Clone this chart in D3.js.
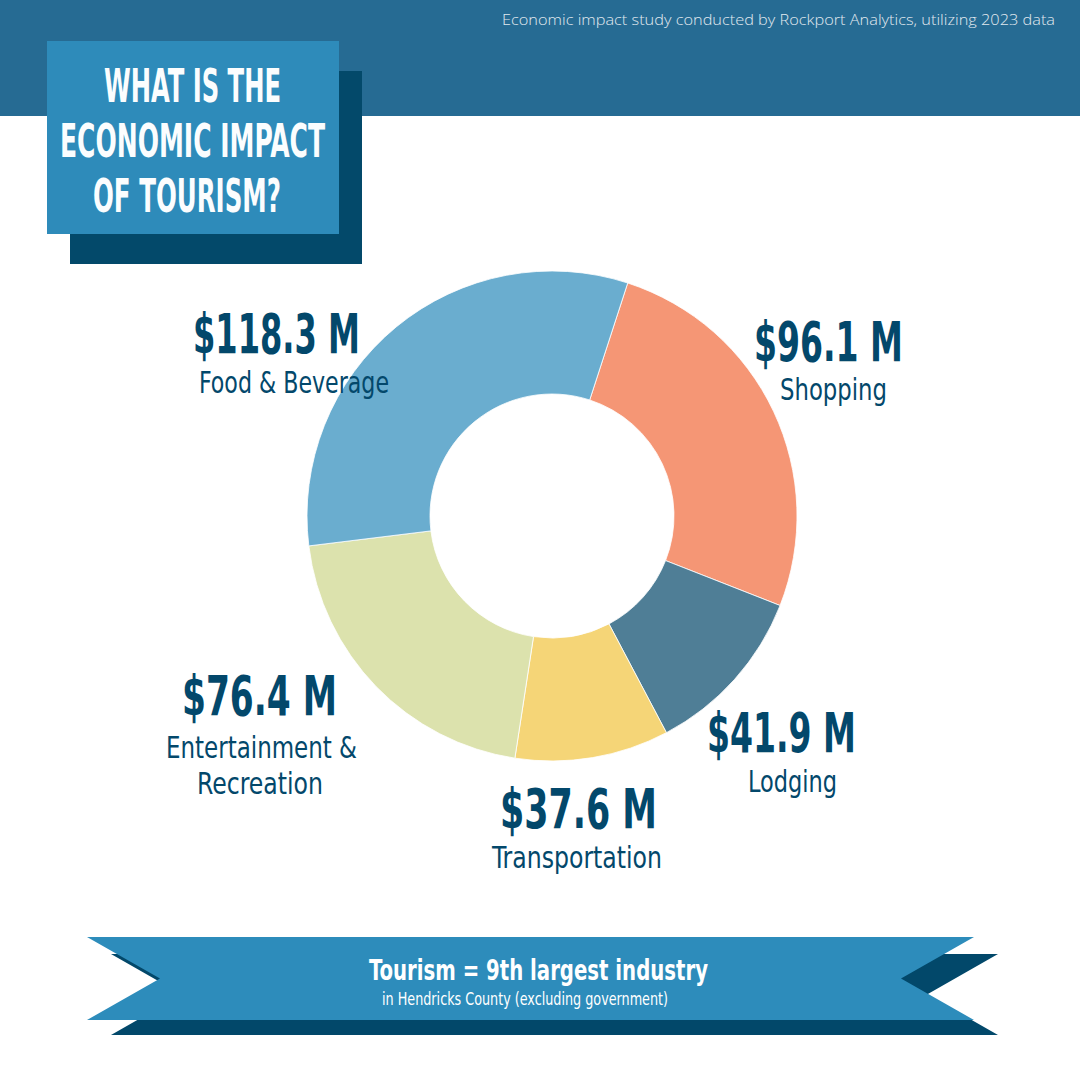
<!DOCTYPE html>
<html>
<head>
<meta charset="utf-8">
<script src="https://cdn.jsdelivr.net/npm/d3@7"></script>
<style>
  html, body { margin: 0; padding: 0; background: #ffffff; }
  svg { display: block; }
</style>
</head>
<body>
<svg id="chart" width="1080" height="1080"></svg>
<script>
// ---- data ----
const categories = ["Shopping", "Lodging", "Transportation", "Entertainment & Recreation", "Food & Beverage"];
const values = [96.1, 41.9, 37.6, 76.4, 118.3];
const categoryLines = [["Shopping"], ["Lodging"], ["Transportation"], ["Entertainment &", "Recreation"], ["Food & Beverage"]];
const sliceColors = ["#f59675", "#4f7e96", "#f5d577", "#dce2ad", "#6aadcf"];
const titleLines = ["WHAT IS THE", "ECONOMIC IMPACT", "OF TOURISM?"];
const sourceNote = "Economic impact study conducted by Rockport Analytics, utilizing 2023 data";
const bannerTitle = "Tourism = 9th largest industry";
const bannerSub = "in Hendricks County (excluding government)";

// ---- layout (positions only) ----
const labelLayout = [
  { v: [754, 903, 361], c: [[780, 887, 400]] },
  { v: [707, 856, 752], c: [[748, 837, 792]] },
  { v: [500, 657, 828], c: [[492, 662, 868]] },
  { v: [182, 337, 715], c: [[166, 357, 758], [197, 323, 794]] },
  { v: [193, 360, 353], c: [[199, 389, 393]] }
];
const titleLayout = [[104, 281, 102], [60, 325, 157], [93, 281, 212]];

const svg = d3.select("#chart");
const condensed = "'Liberation Sans Narrow', 'DejaVu Sans Condensed', 'Roboto', sans-serif";
const dark = "#03486b";

// header band
svg.append("rect").attr("x", 0).attr("y", 0).attr("width", 1080).attr("height", 116).attr("fill", "#266b93");
svg.append("text").attr("x", 502).attr("y", 25)
  .attr("textLength", 553).attr("lengthAdjust", "spacingAndGlyphs")
  .attr("font-family", "'Open Sans', 'DejaVu Sans', sans-serif").attr("font-weight", 300)
  .attr("font-size", 14).attr("fill", "#e1e9ef").text(sourceNote);

// title box
svg.append("rect").attr("x", 70).attr("y", 71).attr("width", 292).attr("height", 193).attr("fill", "#03496a");
svg.append("rect").attr("x", 47).attr("y", 41).attr("width", 292).attr("height", 193).attr("fill", "#2e8bba");
svg.selectAll("text.title").data(titleLines).join("text").attr("class", "title")
  .attr("x", (d, i) => titleLayout[i][0]).attr("y", (d, i) => titleLayout[i][2])
  .attr("textLength", (d, i) => titleLayout[i][1] - titleLayout[i][0]).attr("lengthAdjust", "spacingAndGlyphs")
  .attr("font-family", condensed).attr("font-weight", "bold").attr("font-size", 47)
  .attr("fill", "#fbfdfe").text(d => d);

// donut
const cx = 552, cy = 516;
const a0 = 18 * Math.PI / 180;
const pie = d3.pie().sort(null).value(d => d).startAngle(a0).endAngle(a0 + 2 * Math.PI);
const arc = d3.arc().innerRadius(122).outerRadius(245);
const g = svg.append("g").attr("transform", `translate(${cx},${cy})`);
g.selectAll("path").data(pie(values)).join("path")
  .attr("d", arc).attr("fill", (d, i) => sliceColors[i])
  .attr("stroke", "#ffffff").attr("stroke-width", 0.8);

// labels
const fmt = v => `$${v.toFixed(1)} M`;
values.forEach((v, i) => {
  const L = labelLayout[i];
  svg.append("text").attr("x", L.v[0]).attr("y", L.v[2])
    .attr("textLength", L.v[1] - L.v[0]).attr("lengthAdjust", "spacingAndGlyphs")
    .attr("font-family", condensed).attr("font-weight", "bold").attr("font-size", 55)
    .attr("fill", dark).text(fmt(v));
  categoryLines[i].forEach((line, j) => {
    const c = L.c[j];
    svg.append("text").attr("x", c[0]).attr("y", c[2])
      .attr("textLength", c[1] - c[0]).attr("lengthAdjust", "spacingAndGlyphs")
      .attr("font-family", condensed).attr("font-size", categoryLines[i].length > 1 ? 30 : 31)
      .attr("fill", dark).text(line);
  });
});

// banner
const backPts = [[111, 954], [998, 954], [927, 994.5], [998, 1035], [111, 1035], [182, 994.5]];
const frontPts = [[87, 937], [974, 937], [901, 978.5], [974, 1020], [87, 1020], [160, 978.5]];
svg.append("polygon").attr("points", backPts.map(p => p.join(",")).join(" ")).attr("fill", "#02486a");
svg.append("polygon").attr("points", frontPts.map(p => p.join(",")).join(" ")).attr("fill", "#2d8cbb");
svg.append("text").attr("x", 369).attr("y", 980)
  .attr("textLength", 339).attr("lengthAdjust", "spacingAndGlyphs")
  .attr("font-family", condensed).attr("font-weight", "bold").attr("font-size", 28)
  .attr("fill", "#ffffff").text(bannerTitle);
svg.append("text").attr("x", 382).attr("y", 1005)
  .attr("textLength", 286).attr("lengthAdjust", "spacingAndGlyphs")
  .attr("font-family", condensed).attr("font-size", 17)
  .attr("fill", "#ffffff").text(bannerSub);
</script>
</body>
</html>
